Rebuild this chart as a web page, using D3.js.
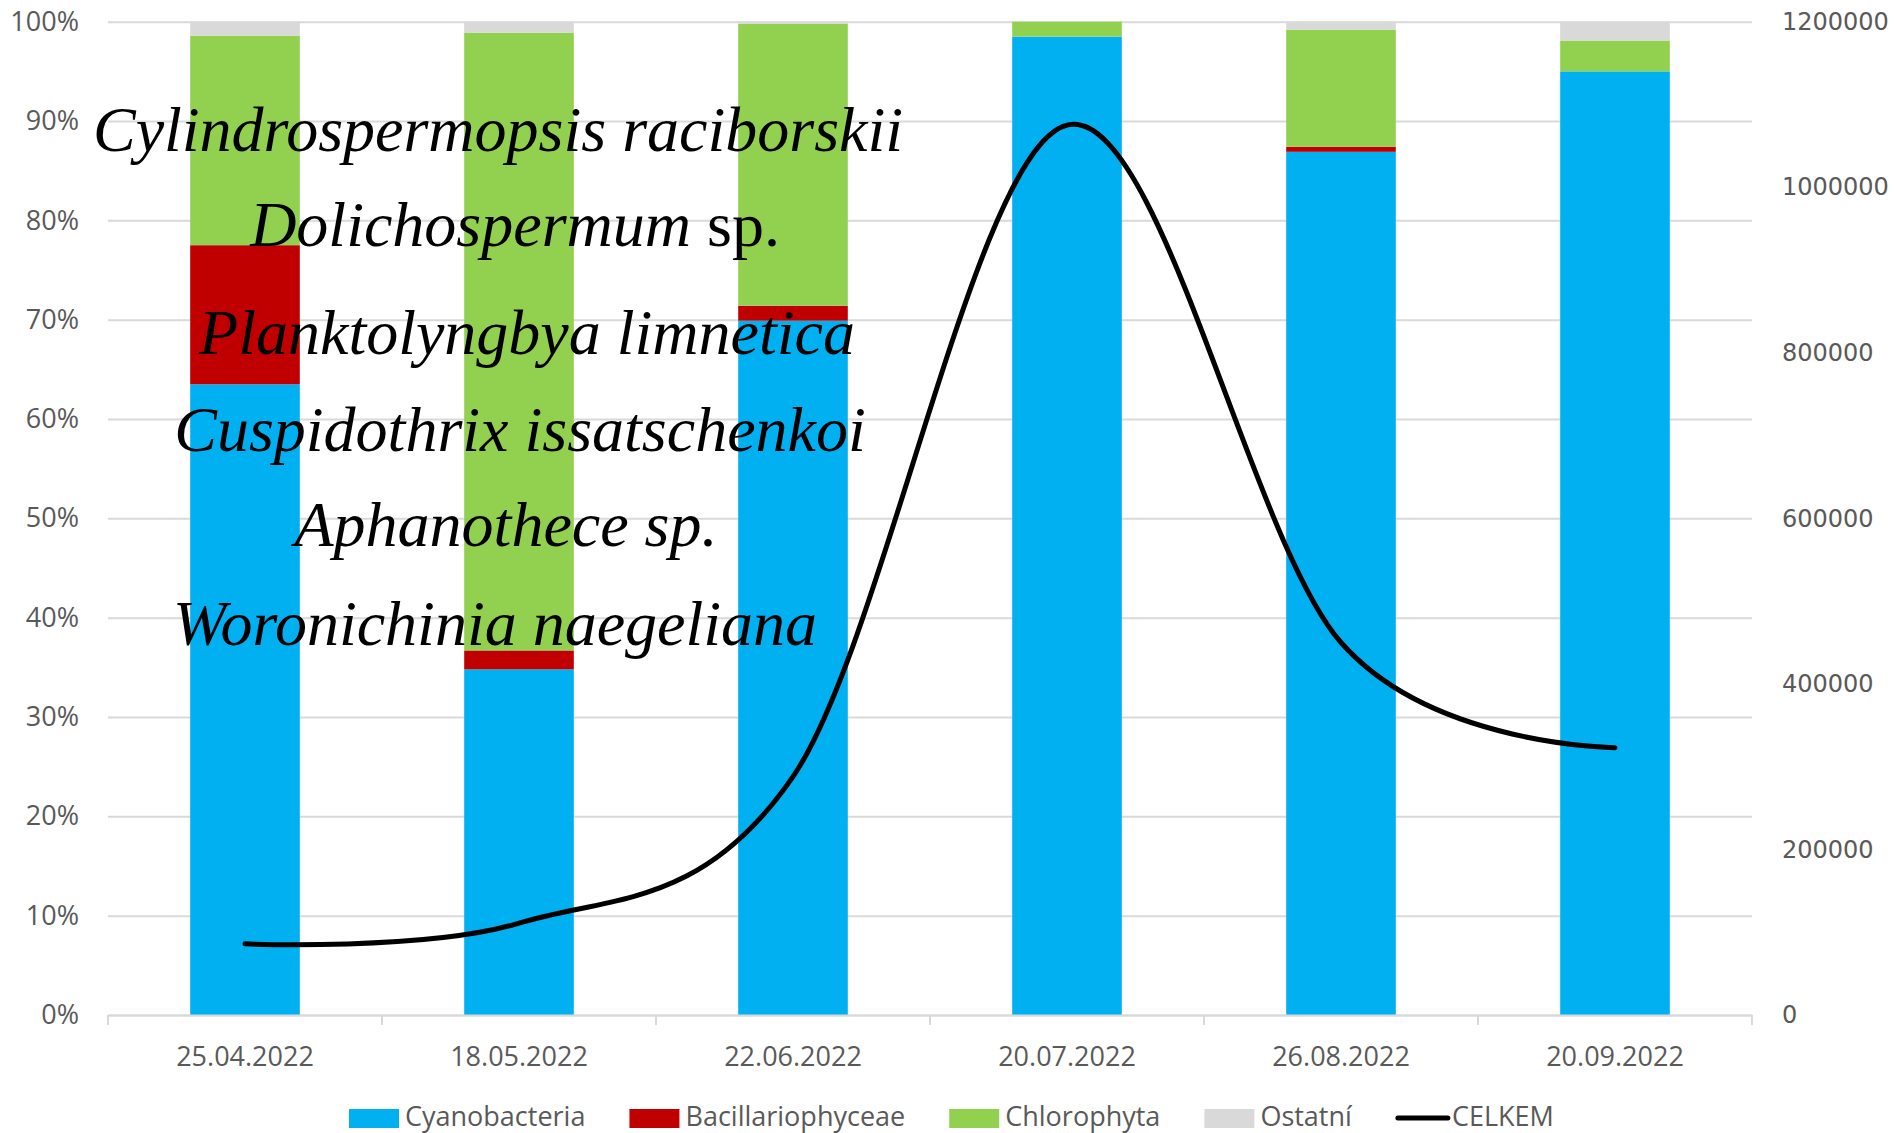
<!DOCTYPE html>
<html>
<head>
<meta charset="utf-8">
<script src="https://cdn.jsdelivr.net/npm/d3@7"></script>
<style>
  html, body { margin: 0; padding: 0; background: #ffffff; }
  svg { display: block; }
</style>
</head>
<body>
<svg id="chart" width="1895" height="1133"></svg>
<script>
// ---------------- DATA ----------------
const categories = ["25.04.2022", "18.05.2022", "22.06.2022", "20.07.2022", "26.08.2022", "20.09.2022"];
const seriesNames = ["Cyanobacteria", "Bacillariophyceae", "Chlorophyta", "Ostatní"];
const cyanobacteria     = [63.5, 34.8, 69.9, 98.5, 86.9, 95.0];
const bacillariophyceae = [14.0,  1.9,  1.5,  0.0,  0.5,  0.0];
const chlorophyta       = [21.1, 62.2, 28.4,  1.5, 11.8,  3.1];
const ostatni           = [ 1.4,  1.1,  0.2,  0.0,  0.8,  1.9];
const celkemName = "CELKEM";
const celkem = [86000, 111000, 288000, 1075000, 450000, 323000];
const leftTicks = [0, 0.1, 0.2, 0.3, 0.4, 0.5, 0.6, 0.7, 0.8, 0.9, 1.0];
const rightTicks = [0, 200000, 400000, 600000, 800000, 1000000, 1200000];
// annotation text: [text, italic]
const annotations = [
  [["Cylindrospermopsis raciborskii", true]],
  [["Dolichospermum", true], [" sp.", false]],
  [["Planktolyngbya limnetica", true]],
  [["Cuspidothrix issatschenkoi", true]],
  [["Aphanothece sp.", true]],
  [["Woronichinia naegeliana", true]]
];

// ---------------- LAYOUT / STYLE ----------------
const colors = ["#00b0f0", "#c00000", "#92d050", "#d9d9d9"];
const plot = { left: 108, right: 1752, top: 21.7, bottom: 1015 };
const barFrac = 0.40;
const gridColor = "#d9d9d9";
const textColor = "#595959";
const annotLayout = [
  { cx: 498, by: 151 }, { cx: 515, by: 246 }, { cx: 527, by: 354 },
  { cx: 520, by: 451 }, { cx: 506, by: 546 }, { cx: 495, by: 645 }
];

const svg = d3.select("#chart");

const x = d3.scaleBand().domain(categories).range([plot.left, plot.right]).padding(0);
const y = d3.scaleLinear().domain([0, 1]).range([plot.bottom, plot.top]);
const y2 = d3.scaleLinear().domain([0, 1200000]).range([plot.bottom, plot.top]);

// gridlines + left axis
const gLeft = svg.append("g").attr("transform", `translate(${plot.left},0)`)
  .call(d3.axisLeft(y).tickValues(leftTicks).tickFormat(d3.format(".0%"))
    .tickSize(-(plot.right - plot.left)).tickPadding(29));
gLeft.select(".domain").remove();
gLeft.selectAll(".tick line").attr("stroke", gridColor).attr("stroke-width", 2);
gLeft.selectAll(".tick text").attr("fill", textColor)
  .style("font-family", "'Open Sans', sans-serif").style("font-size", "27px");

// right axis
const gRight = svg.append("g").attr("transform", `translate(${plot.right},0)`)
  .call(d3.axisRight(y2).tickValues(rightTicks).tickFormat(d3.format("d"))
    .tickSize(0).tickPadding(30));
gRight.select(".domain").remove();
gRight.selectAll(".tick text").attr("fill", textColor)
  .style("font-family", "'DejaVu Sans', sans-serif").style("font-size", "24px");

// bars
const rows = categories.map((c, i) => ({
  cat: c,
  [seriesNames[0]]: cyanobacteria[i] / 100,
  [seriesNames[1]]: bacillariophyceae[i] / 100,
  [seriesNames[2]]: chlorophyta[i] / 100,
  [seriesNames[3]]: ostatni[i] / 100
}));
const stack = d3.stack().keys(seriesNames)(rows);
const bw = x.bandwidth() * barFrac;
svg.append("g").selectAll("g").data(stack).join("g")
  .attr("fill", (d, i) => colors[i])
  .selectAll("rect").data(d => d).join("rect")
  .attr("x", d => x(d.data.cat) + (x.bandwidth() - bw) / 2)
  .attr("width", bw)
  .attr("y", d => y(d[1]))
  .attr("height", d => Math.max(0, y(d[0]) - y(d[1])));

// x axis
const gX = svg.append("g").attr("transform", `translate(0,${plot.bottom})`)
  .call(d3.axisBottom(x).tickSize(0));
gX.select(".domain").attr("stroke", gridColor).attr("stroke-width", 2);
gX.selectAll(".tick text").attr("fill", textColor).attr("y", 51).attr("dy", 0)
  .style("font-family", "'Open Sans', sans-serif").style("font-size", "27px");
const boundaries = categories.map(c => x(c)).concat([x.range()[1]]);
gX.selectAll(".bnd").data(boundaries).join("line").attr("class", "bnd")
  .attr("x1", d => d).attr("x2", d => d).attr("y1", 0).attr("y2", 10)
  .attr("stroke", gridColor).attr("stroke-width", 2);

// annotations
const gA = svg.append("g");
annotations.forEach((parts, i) => {
  const t = gA.append("text")
    .attr("x", annotLayout[i].cx).attr("y", annotLayout[i].by)
    .attr("text-anchor", "middle")
    .style("font-family", "'Liberation Serif', 'Times New Roman', serif")
    .style("font-size", "64px").attr("fill", "#000");
  parts.forEach(p => {
    t.append("tspan").text(p[0]).style("font-style", p[1] ? "italic" : "normal");
  });
});

// line CELKEM
const line = d3.line()
  .x((d, i) => x(categories[i]) + x.bandwidth() / 2)
  .y(d => y2(d))
  .curve(d3.curveCatmullRom.alpha(0));
svg.append("path").datum(celkem).attr("d", line)
  .attr("fill", "none").attr("stroke", "#000").attr("stroke-width", 5)
  .attr("stroke-linecap", "round").attr("stroke-linejoin", "round");

// legend
const legend = svg.append("g");
let lx = 349;
const items = seriesNames.map((n, i) => ({ name: n, color: colors[i], type: "rect" }))
  .concat([{ name: celkemName, color: "#000", type: "line" }]);
items.forEach(it => {
  if (it.type === "rect") {
    legend.append("rect").attr("x", lx).attr("y", 1109).attr("width", 50).attr("height", 19).attr("fill", it.color);
  } else {
    legend.append("line").attr("x1", lx + 2).attr("x2", lx + 52).attr("y1", 1118).attr("y2", 1118)
      .attr("stroke", it.color).attr("stroke-width", 5).attr("stroke-linecap", "round");
  }
  const t = legend.append("text").attr("x", lx + 56).attr("y", 1126).text(it.name)
    .attr("fill", textColor)
    .style("font-family", "'Open Sans', sans-serif").style("font-size", "27px");
  lx += 56 + t.node().getComputedTextLength() + 44;
});
</script>
</body>
</html>
